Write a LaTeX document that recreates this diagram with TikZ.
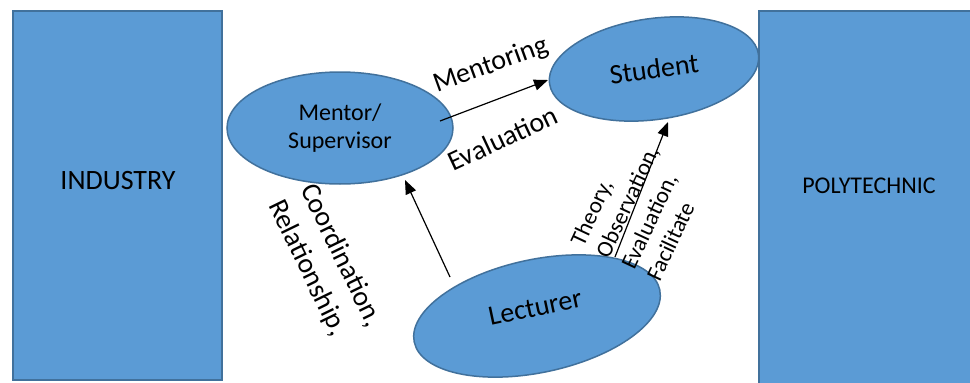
\documentclass[tikz,border=0pt]{standalone}
\usepackage{fontspec}
\setmainfont{Carlito}
\usetikzlibrary{shapes.geometric,arrows.meta}
\definecolor{boxfill}{HTML}{5B9BD5}
\definecolor{boxline}{HTML}{41719C}
\begin{document}
\begin{tikzpicture}[x=1pt,y=-1pt,
  block/.style={draw=boxline, fill=boxfill, line width=1.5pt, rectangle, inner sep=0pt},
  bubble/.style={draw=boxline, fill=boxfill, line width=1.5pt, ellipse, inner sep=0pt,
                 font=\fontsize{28}{34}\selectfont},
  link/.style={-{Triangle[length=14pt,width=11pt]}, line width=1.2pt},
  tag/.style={inner sep=0pt, anchor=base west, font=\fontsize{28}{34}\selectfont},
  smalltag/.style={tag, font=\fontsize{23}{28}\selectfont}]
\clip (0,0) rectangle (970,383);
\fill[white] (0,0) rectangle (970,383);

% side blocks
\node[block, minimum width=209pt, minimum height=369pt] (industry) at (117.5,195.5) {};
\node[font=\fontsize{28}{34}\selectfont] (industrytext) at (118,181) {INDUSTRY};
\node[block, minimum width=231pt, minimum height=389pt] (poly) at (874.5,205.5) {};
\node[font=\fontsize{24}{29}\selectfont] (polytext) at (869,186) {POLYTECHNIC};

% actors
\node[bubble, minimum width=226pt, minimum height=112pt, align=center,
      font=\fontsize{24}{28}\selectfont] (mentor) at (340,128) {Mentor/\\Supervisor};
\node[bubble, minimum width=211pt, minimum height=101pt, rotate=8] (student) at (654,69) {Student};
\node[bubble, minimum width=251pt, minimum height=113pt, rotate=12] (lecturer) at (537,316) {\smash{Lecturer}};

% relations
\draw[link] ([shift={(100,-7)}]mentor.center) -- ([shift={(-106,11)}]student.center);
\draw[link] ([shift={(-87,-39)}]lecturer.center) -- ([shift={(65,52)}]mentor.center);
\draw[link] ([shift={(78,-59)}]lecturer.center) -- ([shift={(14,53)}]student.center);

% relation labels
\node[tag, rotate=20] (lmentoring) at (437,93) {Mentoring};
\node[tag, rotate=25] (lmeval) at (453,172) {Evaluation};
\node[tag, rotate=-64] (lcoord) at (300,189) {Coordination,};
\node[tag, rotate=-64] (lrel) at (268,205) {Relationship,};
\node[smalltag, rotate=65] (ltheory) at (583.5,247.5) {Theory,};
\node[smalltag, rotate=65] (lobs) at (608.9,259.3) {Observation,};
\node[smalltag, rotate=65] (leval) at (634.3,271.1) {Evaluation,};
\node[smalltag, rotate=65] (lfac) at (659.7,282.9) {Facilitate};
\end{tikzpicture}
\end{document}
